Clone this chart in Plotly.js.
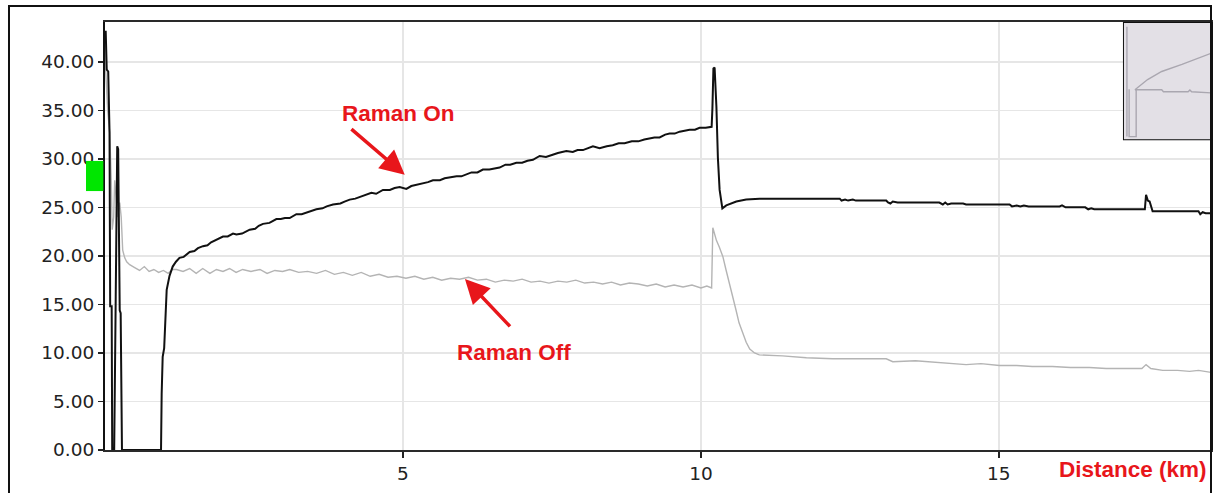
<!DOCTYPE html>
<html>
<head>
<meta charset="utf-8">
<script src="https://cdn.plot.ly/plotly-3.0.1.min.js"></script>
<style>
  html, body { margin: 0; padding: 0; background: #ffffff; }
  #chart { width: 1221px; height: 493px; }
</style>
</head>
<body>
<div id="chart"></div>
<script>
// ---- Raman On (black trace) : distance (km) / value ----
const onDist = [
  0.000, 0.012, 0.029, 0.054, 0.076, 0.087, 0.112, 0.121, 0.154, 0.168,
  0.180, 0.205, 0.221, 0.247, 0.263, 0.285, 0.940, 0.951, 0.968, 0.993,
  1.013, 1.035, 1.081, 1.136, 1.191, 1.25, 1.32, 1.421, 1.50, 1.56,
  1.644, 1.72, 1.78, 1.869, 1.980, 2.06, 2.148, 2.205, 2.30, 2.428,
  2.52, 2.58, 2.651, 2.76, 2.876, 2.95, 3.02, 3.099, 3.211, 3.30,
  3.435, 3.547, 3.65, 3.72, 3.826, 3.95, 4.02, 4.106, 4.20, 4.30,
  4.386, 4.470, 4.55, 4.664, 4.78, 4.86, 4.945, 5.057, 5.14, 5.225,
  5.33, 5.42, 5.503, 5.62, 5.70, 5.784, 5.90, 5.98, 6.064, 6.15,
  6.25, 6.342, 6.45, 6.53, 6.622, 6.72, 6.80, 6.903, 7.00, 7.09,
  7.181, 7.294, 7.40, 7.50, 7.60, 7.742, 7.85, 7.93, 8.020, 8.188,
  8.300, 8.42, 8.52, 8.62, 8.72, 8.84, 8.95, 9.05, 9.139, 9.22,
  9.307, 9.40, 9.475, 9.56, 9.643, 9.73, 9.810, 9.90, 9.978, 10.08,
  10.180, 10.193, 10.210, 10.230, 10.260, 10.285, 10.314, 10.360, 10.426, 10.594,
  10.760, 10.985, 11.5, 12.0, 12.33, 12.36, 12.42, 12.47, 12.55, 12.60,
  13.11, 13.14, 13.18, 13.22, 13.30, 14.00, 14.06, 14.10, 14.14, 14.20,
  14.40, 14.45, 15.18, 15.22, 15.30, 15.36, 15.42, 15.50, 16.02, 16.06,
  16.12, 16.45, 16.50, 16.55, 16.60, 17.45, 17.47, 17.50, 17.53, 17.58,
  18.35, 18.38, 18.42, 18.47, 18.56
];
const onValue = [
  43.1, 43.1, 39.2, 39.0, 32.7, 14.8, 14.8, 0, 0, 15.8,
  15.8, 31.3, 31.0, 14.4, 14.1, 0, 0, 5.8, 9.6, 10.5,
  12.9, 16.5, 17.9, 18.9, 19.4, 19.8, 19.9, 20.4, 20.5, 20.8,
  21.0, 21.1, 21.4, 21.7, 22.0, 22.0, 22.3, 22.2, 22.3, 22.7,
  22.8, 23.1, 23.3, 23.4, 23.8, 23.8, 23.9, 23.9, 24.3, 24.3,
  24.6, 24.8, 24.9, 25.1, 25.3, 25.4, 25.6, 25.8, 25.9, 26.1,
  26.3, 26.5, 26.4, 26.8, 26.8, 27.0, 27.1, 26.9, 27.2, 27.3,
  27.5, 27.6, 27.8, 27.8, 28.0, 28.1, 28.2, 28.2, 28.4, 28.6,
  28.6, 28.9, 28.9, 29.0, 29.1, 29.4, 29.4, 29.6, 29.6, 29.8,
  29.9, 30.3, 30.2, 30.4, 30.6, 30.8, 30.7, 30.9, 30.9, 31.3,
  31.1, 31.3, 31.4, 31.6, 31.6, 31.8, 31.8, 32.0, 32.1, 32.2,
  32.2, 32.5, 32.6, 32.6, 32.8, 32.9, 33.0, 33.0, 33.2, 33.2,
  33.3, 35.2, 39.3, 39.4, 35.4, 30.1, 26.8, 24.9, 25.2, 25.6,
  25.8, 25.9, 25.9, 25.9, 25.9, 25.7, 25.8, 25.7, 25.8, 25.7,
  25.7, 25.5, 25.4, 25.6, 25.5, 25.5, 25.3, 25.5, 25.3, 25.4,
  25.4, 25.3, 25.3, 25.1, 25.2, 25.1, 25.2, 25.1, 25.1, 25.2,
  25.0, 25.0, 24.8, 24.9, 24.8, 24.8, 26.3, 25.7, 25.6, 24.6,
  24.6, 24.3, 24.5, 24.4, 24.4
];

// ---- Raman Off (grey trace) ----
const offDist = [
  0.000, 0.012, 0.045, 0.079, 0.104, 0.121, 0.146, 0.163, 0.188, 0.213,
  0.247, 0.272, 0.297, 0.331, 0.364, 0.414, 0.498, 0.58, 0.66, 0.74,
  0.82, 0.90, 0.98, 1.06, 1.13, 1.20, 1.31, 1.42, 1.53, 1.64,
  1.76, 1.87, 1.98, 2.09, 2.20, 2.31, 2.45, 2.60, 2.72, 2.85,
  2.98, 3.10, 3.25, 3.40, 3.55, 3.70, 3.85, 4.00, 4.15, 4.30,
  4.45, 4.60, 4.75, 4.90, 5.05, 5.20, 5.35, 5.50, 5.65, 5.80,
  5.95, 6.10, 6.25, 6.40, 6.55, 6.70, 6.85, 7.00, 7.15, 7.30,
  7.45, 7.60, 7.75, 7.90, 8.05, 8.20, 8.35, 8.50, 8.65, 8.80,
  8.95, 9.10, 9.25, 9.40, 9.55, 9.70, 9.85, 10.00, 10.10, 10.18,
  10.20, 10.23, 10.26, 10.31, 10.37, 10.42, 10.48, 10.53, 10.59, 10.64,
  10.70, 10.76, 10.82, 10.90, 10.98, 11.37,
  11.77, 12.21, 13.11, 13.22, 13.60, 14.12, 14.45, 14.70, 15.01, 15.30,
  15.56, 15.90, 16.20, 16.52, 16.80, 17.10, 17.40, 17.47, 17.55, 17.75,
  18.00, 18.20, 18.35, 18.56
];
const offValue = [
  43.0, 39.0, 35.0, 32.7, 28.0, 22.7, 24.0, 27.8, 26.0, 24.0,
  25.5, 24.0, 20.6, 19.8, 19.4, 19.1, 18.8, 18.5, 18.9, 18.4,
  18.6, 18.3, 18.5, 18.2, 18.6, 18.6, 18.4, 18.7, 18.2, 18.7,
  18.2, 18.6, 18.4, 18.7, 18.3, 18.6, 18.4, 18.6, 18.2, 18.5,
  18.4, 18.6, 18.3, 18.4, 18.2, 18.5, 18.1, 18.3, 18.0, 18.3,
  17.9, 18.1, 17.8, 17.9, 17.7, 17.9, 17.6, 17.8, 17.5, 17.7,
  17.6, 17.8, 17.5, 17.6, 17.3, 17.5, 17.4, 17.6, 17.3, 17.4,
  17.2, 17.4, 17.3, 17.5, 17.2, 17.3, 17.1, 17.3, 17.0, 17.2,
  17.1, 16.9, 17.1, 16.8, 17.0, 16.8, 17.0, 16.7, 16.9, 16.7,
  22.9, 22.3, 21.6, 20.9, 19.9, 18.6, 17.2, 15.8, 14.4, 13.1,
  12.0, 11.1, 10.4, 10.0, 9.8, 9.7,
  9.5, 9.4, 9.4, 9.1, 9.2, 9.0, 8.8, 8.9, 8.7, 8.7,
  8.6, 8.6, 8.5, 8.5, 8.4, 8.4, 8.4, 8.8, 8.4, 8.2,
  8.2, 8.1, 8.2, 8.0
];

// ---- small overview inset (normalised 0..1 coordinates) ----
const insetRiseX = [0.136, 0.28, 0.44, 0.67, 1.0];
const insetRiseY = [0.427, 0.513, 0.581, 0.641, 0.735];
const insetFlatX = [0.136, 0.44, 0.46, 0.74, 0.76, 0.78, 1.0];
const insetFlatY = [0.427, 0.427, 0.41, 0.41, 0.425, 0.41, 0.40];
const insetStartX = [0.045, 0.045, null, 0.07, 0.07, 0.15, 0.15];
const insetStartY = [0.96, 0.03, null, 0.43, 0.03, 0.03, 0.43];

// ---- tick labels ----
const xTickVals = [5, 10, 15];
const xTickText = ['5', '10', '15'];
const yTickVals = [0, 5, 10, 15, 20, 25, 30, 35, 40];

const RED = '#e8161b';
const insetGrey = '#aaa7b0';

const traces = [
  { x: offDist, y: offValue, type: 'scatter', mode: 'lines',
    line: { color: '#b4b4b4', width: 1.4 }, hoverinfo: 'skip', name: 'Raman Off' },
  { x: onDist, y: onValue, type: 'scatter', mode: 'lines',
    line: { color: '#111111', width: 2 }, hoverinfo: 'skip', name: 'Raman On' },
  { x: insetRiseX, y: insetRiseY, xaxis: 'x2', yaxis: 'y2', type: 'scatter', mode: 'lines',
    line: { color: insetGrey, width: 1.4 }, hoverinfo: 'skip' },
  { x: insetFlatX, y: insetFlatY, xaxis: 'x2', yaxis: 'y2', type: 'scatter', mode: 'lines',
    line: { color: insetGrey, width: 1.4 }, hoverinfo: 'skip' },
  { x: insetStartX, y: insetStartY, xaxis: 'x2', yaxis: 'y2', type: 'scatter', mode: 'lines',
    line: { color: insetGrey, width: 1.4 }, hoverinfo: 'skip', connectgaps: false }
];

const tickFont = { family: 'DejaVu Sans, Verdana, sans-serif', size: 18.5, color: '#222222' };
const labelFont = { family: 'Liberation Sans, Arial, sans-serif', size: 22.5, color: RED, weight: 'bold' };

const layout = {
  width: 1221, height: 493,
  margin: { l: 105, r: 10, t: 22, b: 43, pad: 0 },
  paper_bgcolor: '#ffffff', plot_bgcolor: '#ffffff',
  showlegend: false,
  xaxis: {
    domain: [0, 1], range: [0, 18.56],
    tickmode: 'array', tickvals: xTickVals, ticktext: xTickText,
    ticks: 'outside', ticklen: 6, tickwidth: 1.5, tickcolor: '#222',
    showgrid: true, gridcolor: '#e6e6e6', gridwidth: 1.5,
    showline: true, linecolor: '#2a2a2a', linewidth: 2, mirror: true,
    zeroline: false, tickfont: tickFont, fixedrange: true
  },
  yaxis: {
    domain: [0, 1], range: [0, 44.1],
    tickmode: 'array', tickvals: yTickVals, tickformat: '.2f',
    ticks: 'outside', ticklen: 5, tickwidth: 1.5, tickcolor: '#222',
    showgrid: true, gridcolor: '#e6e6e6', gridwidth: 1.5,
    showline: true, linecolor: '#111', linewidth: 2, mirror: true,
    zeroline: false, tickfont: tickFont, fixedrange: true
  },
  xaxis2: { domain: [0.9204, 1], anchor: 'y2', range: [0, 1], visible: false, fixedrange: true },
  yaxis2: { domain: [0.724, 1], anchor: 'x2', range: [0, 1], visible: false, fixedrange: true },
  shapes: [
    // inset panel
    { type: 'rect', xref: 'x2', yref: 'y2', x0: 0, x1: 1, y0: 0, y1: 1,
      fillcolor: '#e3e0e6', line: { color: '#111', width: 2 }, layer: 'below' },
    // outer frame
    { type: 'rect', xref: 'paper', yref: 'paper', x0: -0.0868, x1: 1.0, y0: -0.13, y1: 1.0374,
      fillcolor: 'rgba(0,0,0,0)', line: { color: '#111', width: 2 }, layer: 'above' },
    // green marker on the y axis
    { type: 'rect', xref: 'paper', yref: 'paper', x0: -0.0172, x1: -0.0015, y0: 0.605, y1: 0.6754,
      fillcolor: '#00e600', line: { width: 0 }, layer: 'above' }
  ],
  annotations: [
    { xref: 'x', yref: 'y', x: 4.93, y: 34.7, text: 'Raman On', showarrow: false,
      font: labelFont, xanchor: 'center', yanchor: 'middle' },
    { xref: 'x', yref: 'y', x: 6.87, y: 10.0, text: 'Raman Off', showarrow: false,
      font: labelFont, xanchor: 'center', yanchor: 'middle' },
    { xref: 'paper', yref: 'paper', x: 0.9985, y: -0.0467, text: 'Distance (km)', showarrow: false,
      font: labelFont, xanchor: 'right', yanchor: 'middle' },
    { xref: 'x', yref: 'y', x: 5.03, y: 28.35, axref: 'x', ayref: 'y', ax: 4.11, ay: 33.2,
      text: '', showarrow: true, arrowhead: 2, arrowsize: 1.4, arrowwidth: 3.5,
      arrowcolor: RED, standoff: 0 },
    { xref: 'x', yref: 'y', x: 6.04, y: 17.63, axref: 'x', ayref: 'y', ax: 6.82, ay: 12.58,
      text: '', showarrow: true, arrowhead: 2, arrowsize: 1.4, arrowwidth: 3.5,
      arrowcolor: RED, standoff: 0 }
  ]
};

Plotly.newPlot('chart', traces, layout, { staticPlot: true, displayModeBar: false });
</script>
</body>
</html>
